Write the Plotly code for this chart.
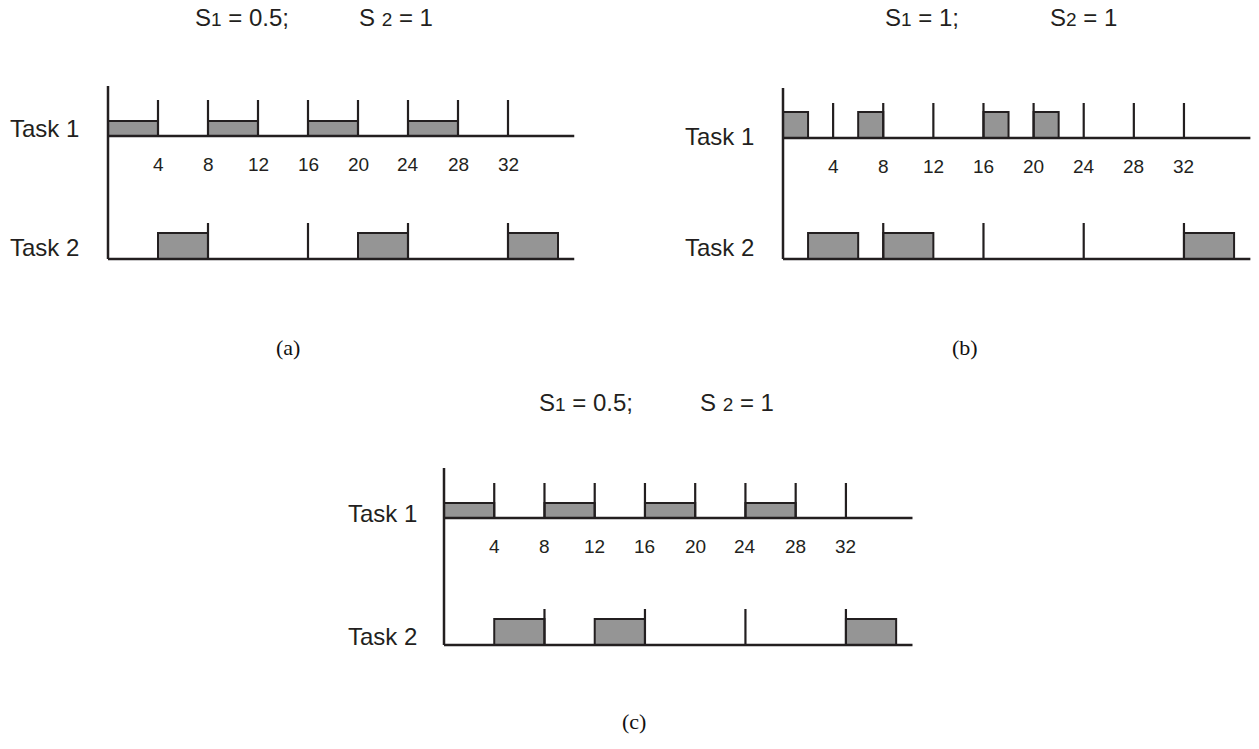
import plotly.graph_objects as go

# ---------------- data ----------------
PANELS = ["a", "b", "c"]
S1_VALUES = ["0.5", "1", "0.5"]
S2_VALUES = ["1", "1", "1"]
S2_SPACED = [True, False, True]

TASK1_PERIOD_MARKS = [4, 8, 12, 16, 20, 24, 28, 32]
TASK2_PERIOD_MARKS = [8, 16, 24, 32]
TASK1_TICK_LABELS = [4, 8, 12, 16, 20, 24, 28, 32]
TASK2_TICK_LABELS = [0, 8, 16, 24, 32]

# execution intervals (start, end)
A_TASK1_RUNS = [(0, 4), (8, 12), (16, 20), (24, 28)]
A_TASK2_RUNS = [(4, 8), (20, 24), (32, 36)]
B_TASK1_RUNS = [(0, 2), (6, 8), (16, 18), (20, 22)]
B_TASK2_RUNS = [(2, 6), (8, 12), (32, 36)]
C_TASK1_RUNS = [(0, 4), (8, 12), (16, 20), (24, 28)]
C_TASK2_RUNS = [(4, 8), (12, 16), (32, 36)]

TASK1_RUNS = [A_TASK1_RUNS, B_TASK1_RUNS, C_TASK1_RUNS]
TASK2_RUNS = [A_TASK2_RUNS, B_TASK2_RUNS, C_TASK2_RUNS]

# ---------------- layout / style ----------------
W, H = 1259, 749
GEOM = [
    dict(x0=108, ppu=12.5, yb1=136, yb2=259, t1box=15, t2box=26, t1tick=36, t2tick=36,
         title_y=18, s1_left=193, s2_left=357, lab_right=81, t1lab_y=128, t2lab_y=248,
         letter_x=288, letter_y=347),
    dict(x0=783, ppu=12.53, yb1=138, yb2=259, t1box=26, t2box=26, t1tick=35, t2tick=36,
         title_y=18, s1_left=883, s2_left=1048, lab_right=756, t1lab_y=137, t2lab_y=248,
         letter_x=965, letter_y=347),
    dict(x0=444, ppu=12.56, yb1=518, yb2=645, t1box=15, t2box=26, t1tick=35, t2tick=36,
         title_y=402, s1_left=537, s2_left=698, lab_right=419, t1lab_y=513, t2lab_y=636,
         letter_x=634, letter_y=721),
]
XMIN, XMAX = -2, 37.8
AXIS_END = 37.3
AXIS_ABOVE = 50
INK = "#231f20"
FILL = "#959595"
SANS = "Liberation Sans, Arial, sans-serif"
SERIF = "Liberation Serif, Times New Roman, serif"

fig = go.Figure()
shapes = []
annotations = []


def px(x):
    return x / W


def py(y):
    return 1 - y / H


for i, g in enumerate(GEOM):
    n = "" if i == 0 else str(i + 1)
    xa, ya = "x" + n, "y" + n
    gap = g["yb2"] - g["yb1"]
    ylo, yhi = -8, gap + 60
    fig.update_layout(**{
        "xaxis" + n: dict(range=[XMIN, XMAX], visible=False, fixedrange=True,
                          domain=[(g["x0"] + XMIN * g["ppu"]) / W, (g["x0"] + XMAX * g["ppu"]) / W],
                          anchor=ya),
        "yaxis" + n: dict(range=[ylo, yhi], visible=False, fixedrange=True,
                          domain=[1 - (g["yb2"] - ylo) / H, 1 - (g["yb2"] - yhi) / H],
                          anchor=xa),
    })
    # invisible trace to activate the subplot
    fig.add_trace(go.Scatter(x=[0], y=[0], xaxis=xa, yaxis=ya, mode="markers",
                             marker=dict(opacity=0), hoverinfo="skip", showlegend=False))

    rows = [(gap, TASK1_RUNS[i], g["t1box"], TASK1_PERIOD_MARKS, g["t1tick"]),
            (0, TASK2_RUNS[i], g["t2box"], TASK2_PERIOD_MARKS, g["t2tick"])]
    for base, runs, bh, marks, th in rows:
        for s, e in runs:
            shapes.append(dict(type="rect", xref=xa, yref=ya, x0=s, x1=e, y0=base, y1=base + bh,
                               fillcolor=FILL, line=dict(color=INK, width=2), layer="above"))
        for m in marks:
            shapes.append(dict(type="line", xref=xa, yref=ya, x0=m, x1=m, y0=base, y1=base + th,
                               line=dict(color=INK, width=2.2), layer="above"))
        shapes.append(dict(type="line", xref=xa, yref=ya, x0=0, x1=AXIS_END, y0=base, y1=base,
                           line=dict(color=INK, width=2.5), layer="above"))
    # vertical axis
    shapes.append(dict(type="line", xref=xa, yref=ya, x0=0, x1=0, y0=0, y1=gap + AXIS_ABOVE,
                       line=dict(color=INK, width=2.5), layer="above"))

    # tick labels
    for v in TASK1_TICK_LABELS:
        annotations.append(dict(xref=xa, yref=ya, x=v, y=gap - 28, text=str(v), showarrow=False,
                                font=dict(family=SANS, size=19, color=INK), xanchor="center",
                                yanchor="middle"))
    for v in TASK2_TICK_LABELS:
        annotations.append(dict(xref=xa, yref=ya, x=v, y=-25, text=str(v), showarrow=False,
                                font=dict(family=SANS, size=19, color=INK), xanchor="center",
                                yanchor="middle"))

    # task labels
    for txt, yy in (("Task 1", g["t1lab_y"]), ("Task 2", g["t2lab_y"])):
        annotations.append(dict(xref="paper", yref="paper", x=px(g["lab_right"]), y=py(yy),
                                text=txt, showarrow=False, xanchor="right", yanchor="middle",
                                font=dict(family=SANS, size=24, color=INK)))

    # title parts
    small = '<span style="font-size:19px">%s</span>'
    s1 = "S" + small % "1" + " = " + S1_VALUES[i] + ";"
    s2 = "S" + (" " if S2_SPACED[i] else "") + small % "2" + " = " + S2_VALUES[i]
    annotations.append(dict(xref="paper", yref="paper", x=px(g["s1_left"]), y=py(g["title_y"]),
                            text=s1, showarrow=False, xanchor="left", yanchor="middle",
                            font=dict(family=SANS, size=24, color=INK)))
    annotations.append(dict(xref="paper", yref="paper", x=px(g["s2_left"]), y=py(g["title_y"]),
                            text=s2, showarrow=False, xanchor="left", yanchor="middle",
                            font=dict(family=SANS, size=24, color=INK)))
    # panel letter
    annotations.append(dict(xref="paper", yref="paper", x=px(g["letter_x"]), y=py(g["letter_y"]),
                            text="(" + PANELS[i] + ")", showarrow=False, xanchor="center",
                            yanchor="middle", font=dict(family=SERIF, size=22, color="#111111")))

fig.update_layout(width=W, height=H, margin=dict(l=0, r=0, t=0, b=0),
                  paper_bgcolor="white", plot_bgcolor="white", showlegend=False,
                  shapes=shapes, annotations=annotations)

fig.write_html("out.html", config={"displayModeBar": False},
               post_script="document.body.style.margin='0';document.body.style.overflow='hidden';")
